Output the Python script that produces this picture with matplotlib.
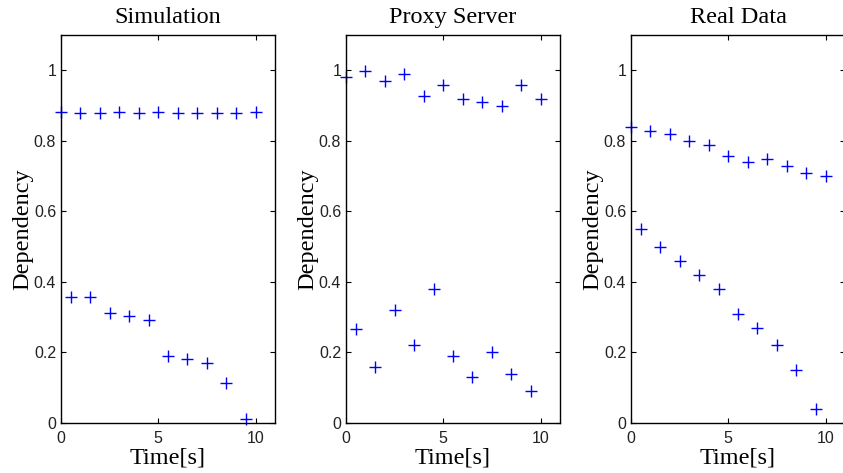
import matplotlib
matplotlib.use("Agg")
import matplotlib.pyplot as plt

titles = ["Simulation", "Proxy Server", "Real Data"]
x_upper = [0, 1, 2, 3, 4, 5, 6, 7, 8, 9, 10]
x_lower = [0.5, 1.5, 2.5, 3.5, 4.5, 5.5, 6.5, 7.5, 8.5, 9.5]

sim_upper = [0.882, 0.879, 0.880, 0.881, 0.879, 0.882, 0.879, 0.879, 0.880, 0.879, 0.882]
sim_lower = [0.358, 0.356, 0.313, 0.304, 0.292, 0.191, 0.181, 0.170, 0.114, 0.011]

proxy_upper = [0.981, 0.998, 0.969, 0.989, 0.928, 0.959, 0.919, 0.909, 0.898, 0.959, 0.919]
proxy_lower = [0.267, 0.160, 0.319, 0.220, 0.379, 0.191, 0.130, 0.200, 0.140, 0.091]

real_upper = [0.839, 0.829, 0.820, 0.800, 0.789, 0.758, 0.739, 0.749, 0.729, 0.709, 0.699]
real_lower = [0.549, 0.499, 0.459, 0.420, 0.379, 0.309, 0.270, 0.220, 0.150, 0.041]

uppers = [sim_upper, proxy_upper, real_upper]
lowers = [sim_lower, proxy_lower, real_lower]

x_ticks = [0, 5, 10]
y_ticks = [0, 0.2, 0.4, 0.6, 0.8, 1]
y_ticklabels = ["0", "0.2", "0.4", "0.6", "0.8", "1"]

fig = plt.figure(figsize=(8.43, 4.73), dpi=100)
lefts = [61 / 843, 346 / 843, 631 / 843]
w = 214 / 843
b = 50 / 473
h = 388 / 473

serif = "Liberation Serif"
sans = "Liberation Sans"

for i in range(3):
    ax = fig.add_axes([lefts[i], b, w, h])
    ax.plot(x_upper, uppers[i], linestyle="none", marker="+", color="#0000ff",
            markersize=8.5, markeredgewidth=1.0, clip_on=False)
    ax.plot(x_lower, lowers[i], linestyle="none", marker="+", color="#0000ff",
            markersize=8.5, markeredgewidth=1.0, clip_on=False)
    ax.set_xlim(0, 11)
    ax.set_ylim(0, 1.1)
    ax.set_xticks(x_ticks)
    ax.set_yticks(y_ticks)
    ax.set_yticklabels(y_ticklabels)
    ax.tick_params(direction="in", length=3.5, width=0.8, top=True, right=True,
                   labelsize=11.5, colors="black")
    ax.tick_params(axis="x", pad=5.5)
    ax.tick_params(axis="y", pad=3.5)
    for lab in ax.get_xticklabels() + ax.get_yticklabels():
        lab.set_fontfamily(sans)
        lab.set_color("#222222")
    for s in ax.spines.values():
        s.set_linewidth(1.0)
    ax.set_title(titles[i], fontsize=17.5, family=serif, pad=8.5)
    ax.set_xlabel("Time[s]", fontsize=17.5, family=serif, labelpad=1.5)
    ax.set_ylabel("Dependency", fontsize=17.5, family=serif, labelpad=0.5)

fig.savefig("out.png", dpi=100)
